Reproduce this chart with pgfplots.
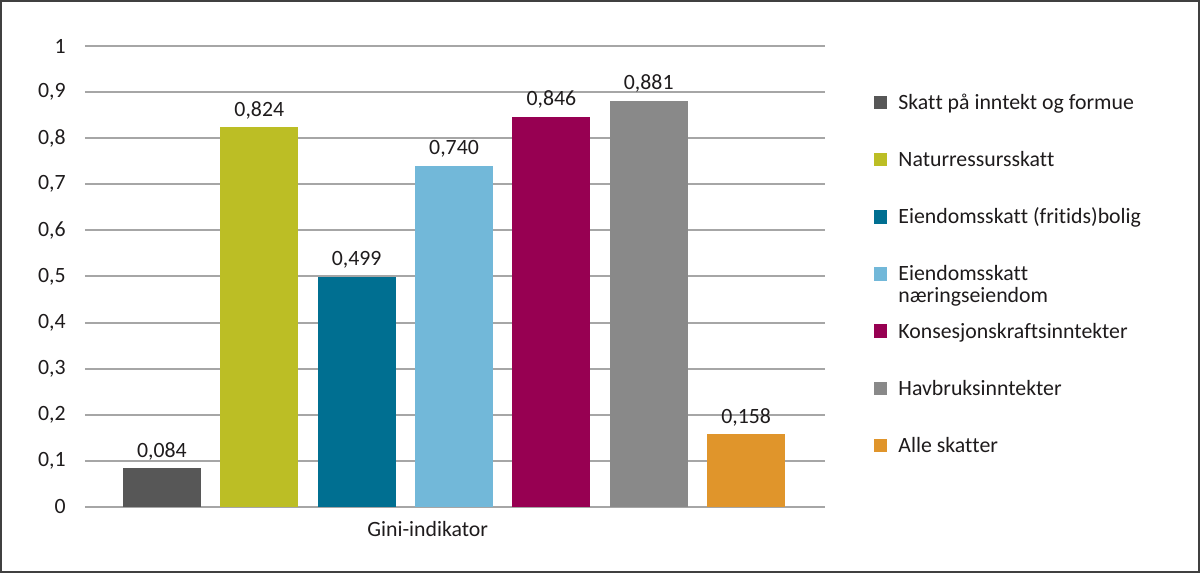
\documentclass[border=0pt]{standalone}
\usepackage{fontspec}
\setmainfont{Carlito}[RawFeature={-liga;-clig;-calt;-dlig}]
\usepackage{pgfplots}
\pgfplotsset{compat=1.18}

\definecolor{c1}{HTML}{575757}
\definecolor{c2}{HTML}{BCBE25}
\definecolor{c3}{HTML}{006F91}
\definecolor{c4}{HTML}{72B8D9}
\definecolor{c5}{HTML}{970052}
\definecolor{c6}{HTML}{898989}
\definecolor{c7}{HTML}{E0952B}
\definecolor{gridc}{HTML}{A6A6A6}
\definecolor{txt}{HTML}{1E1B1C}

% break the tt / ti / ft ligatures of Carlito
\newcommand{\nl}{\kern0pt{}}

\begin{document}
\begin{tikzpicture}
\path[use as bounding box] (-42.5pt,-33pt) rectangle (557.5pt,253.5pt);
\draw[line width=1pt, color=black!75] (-42pt,-32.5pt) rectangle (557pt,253pt);
\begin{axis}[
    at={(0,0)}, anchor=south west,
    scale only axis,
    width=370pt, height=230.5pt,
    ybar, bar width=39pt,
    legend image code/.code={\fill[#1, draw=none] (0pt,-3.4pt) rectangle (6.8pt,3.4pt);},
    xmin=-0.79, xmax=6.81,
    ymin=0, ymax=1,
    ytick={0,0.1,...,1.0},
    xtick={2.73},
    xticklabels={Gini-indikator},
    ymajorgrids,
    grid style={gridc, line width=1pt},
    axis line style={draw=none},
    major tick length=0pt,
    font=\fontsize{10.9}{13}\selectfont,
    /pgf/number format/assume math mode=true,
    /pgf/number format/use comma,
    /pgf/number format/1000 sep={},
    yticklabel style={inner sep=0pt, xshift=-9.5pt, text=txt},
    xticklabel style={inner sep=0pt, yshift=-7pt, text=txt},
    nodes near coords={\pgfmathprintnumber[fixed, fixed zerofill, precision=3]{\pgfplotspointmeta}},
    nodes near coords style={anchor=base, inner sep=0pt, yshift=5.5pt, text=txt},
    legend style={at={(1.066,0.893)}, anchor=north west, draw=none,
        inner sep=0pt, outer sep=0pt, row sep=21.6pt, column sep=5.5pt,
        font=\fontsize{10.9}{10.6}\selectfont, text=txt,
        nodes={inner sep=0pt, text height=7pt, text depth=0pt}},
    legend cell align=left,
]
\addplot[fill=c1, draw=none, bar shift=0pt] coordinates {(0,0.084)};
\addplot[fill=c2, draw=none, bar shift=0pt] coordinates {(1,0.824)};
\addplot[fill=c3, draw=none, bar shift=0pt] coordinates {(2,0.499)};
\addplot[fill=c4, draw=none, bar shift=0pt] coordinates {(3,0.740)};
\addplot[fill=c5, draw=none, bar shift=0pt] coordinates {(4,0.846)};
\addplot[fill=c6, draw=none, bar shift=0pt] coordinates {(5,0.881)};
\addplot[fill=c7, draw=none, bar shift=0pt] coordinates {(6,0.158)};
\legend{Skat\nl t på inntekt og formue,
    Naturressursskat\nl t,
    Eiendomsskat\nl t (frit\nl ids)bolig,
    {\begin{tabular}[t]{@{}l@{}}Eiendomsskat\nl t\\næringseiendom\end{tabular}},
    Konsesjonskraf\nl t\nl sinntekter,
    Havbruksinntekter,
    Alle skat\nl ter}
\end{axis}
\end{tikzpicture}
\end{document}
